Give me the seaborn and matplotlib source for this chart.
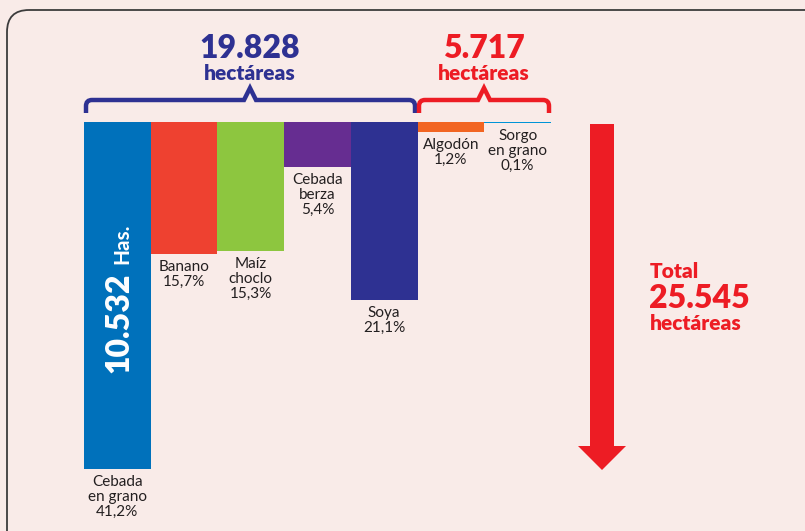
import matplotlib
matplotlib.use("Agg")
import matplotlib.pyplot as plt
import seaborn as sns
from matplotlib.patches import FancyBboxPatch, Polygon
from matplotlib.path import Path
from matplotlib.patches import PathPatch

# data
crops = ["Cebada\nen grano", "Banano", "Maíz\nchoclo", "Cebada\nberza", "Soya", "Algodón", "Sorgo\nen grano"]
shares = [41.2, 15.7, 15.3, 5.4, 21.1, 1.2, 0.1]
share_labels = ["41,2%", "15,7%", "15,3%", "5,4%", "21,1%", "1,2%", "0,1%"]
bar_colors = ["#0071BB", "#EE4130", "#8DC63F", "#662D91", "#2E3192", "#F26522", "#0094D7"]
group_totals = ["19.828", "5.717"]
total_ha = "25.545"
cebada_ha = "10.532"

BLUE = "#2E3192"
RED = "#ED1C24"
BG = "#F9EBE8"

sns.set_style("white")
plt.rcParams["font.family"] = ["Lato", "DejaVu Sans"]

fig = plt.figure(figsize=(8.05, 5.31), dpi=100)
fig.patch.set_facecolor(BG)

# bars hang from a common top line at y=122px
W, H = 805, 531
ax = fig.add_axes([84 / W, 0, 467 / W, (H - 122) / H])
ax.set_facecolor("none")
sns.barplot(x=crops, y=shares, hue=crops, palette=bar_colors, legend=False,
            width=1.0, saturation=1, linewidth=0, ax=ax)
ax.set_xlim(-0.5, len(crops) - 0.5)
ax.set_ylim((H - 122) / (347 / 41.2), 0)
ax.axis("off")

for i, (name, lab) in enumerate(zip(crops, share_labels)):
    ax.annotate(f"{name}\n{lab}", xy=(i, shares[i]), xytext=(0, -6),
                textcoords="offset pixels", ha="center", va="top",
                fontsize=11, color="#231F20", linespacing=1.08)

# overlay in pixel coordinates for the decorations
ov = fig.add_axes([0, 0, 1, 1], zorder=3)
ov.set_xlim(0, W)
ov.set_ylim(H, 0)
ov.axis("off")
ov.patch.set_alpha(0)

ov.add_patch(FancyBboxPatch((7, 10), 830, 560, boxstyle="round,pad=0,rounding_size=22",
                            fill=False, edgecolor="#3C3C3C", linewidth=1.3))


def brace(x0, x1, xp, color):
    y, yb, r = 100, 113, 6
    verts = [(x0, yb), (x0, y + r), (x0, y), (x0 + r, y), (xp - 6, y), (xp, 88),
             (xp + 6, y), (x1 - r, y), (x1, y), (x1, y + r), (x1, yb)]
    codes = [Path.MOVETO, Path.LINETO, Path.CURVE3, Path.CURVE3, Path.LINETO, Path.LINETO,
             Path.LINETO, Path.LINETO, Path.CURVE3, Path.CURVE3, Path.LINETO]
    ov.add_patch(PathPatch(Path(verts, codes), fill=False, edgecolor=color,
                           linewidth=3.2, capstyle="butt", joinstyle="miter"))


brace(86, 415, 250, BLUE)
brace(419, 549, 484, RED)

bold = dict(fontweight="heavy", ha="center", va="center")
ov.text(250, 49, group_totals[0], color=BLUE, fontsize=23, **bold)
ov.text(250, 73, "hectáreas", color=BLUE, fontsize=15, **bold)
ov.text(484, 49, group_totals[1], color=RED, fontsize=23, **bold)
ov.text(484, 73, "hectáreas", color=RED, fontsize=15, **bold)

ov.text(119, 373, cebada_ha, color="white", fontsize=23, rotation=90,
        fontweight="heavy", ha="center", va="bottom")
ov.text(122, 264, "Has.", color="white", fontsize=15, rotation=90,
        fontweight="bold", ha="center", va="bottom")

# total arrow
ov.add_patch(Polygon([(590, 124), (614, 124), (614, 446), (626, 446), (602, 470),
                      (578, 446), (590, 446)], closed=True, facecolor=RED, edgecolor="none"))
ov.text(650, 272, "Total", color=RED, fontsize=15, fontweight="heavy", ha="left", va="center")
ov.text(649, 298, total_ha, color=RED, fontsize=23, fontweight="heavy", ha="left", va="center")
ov.text(650, 324, "hectáreas", color=RED, fontsize=15, fontweight="heavy", ha="left", va="center")

fig.savefig("out.png", dpi=100, facecolor=BG)
